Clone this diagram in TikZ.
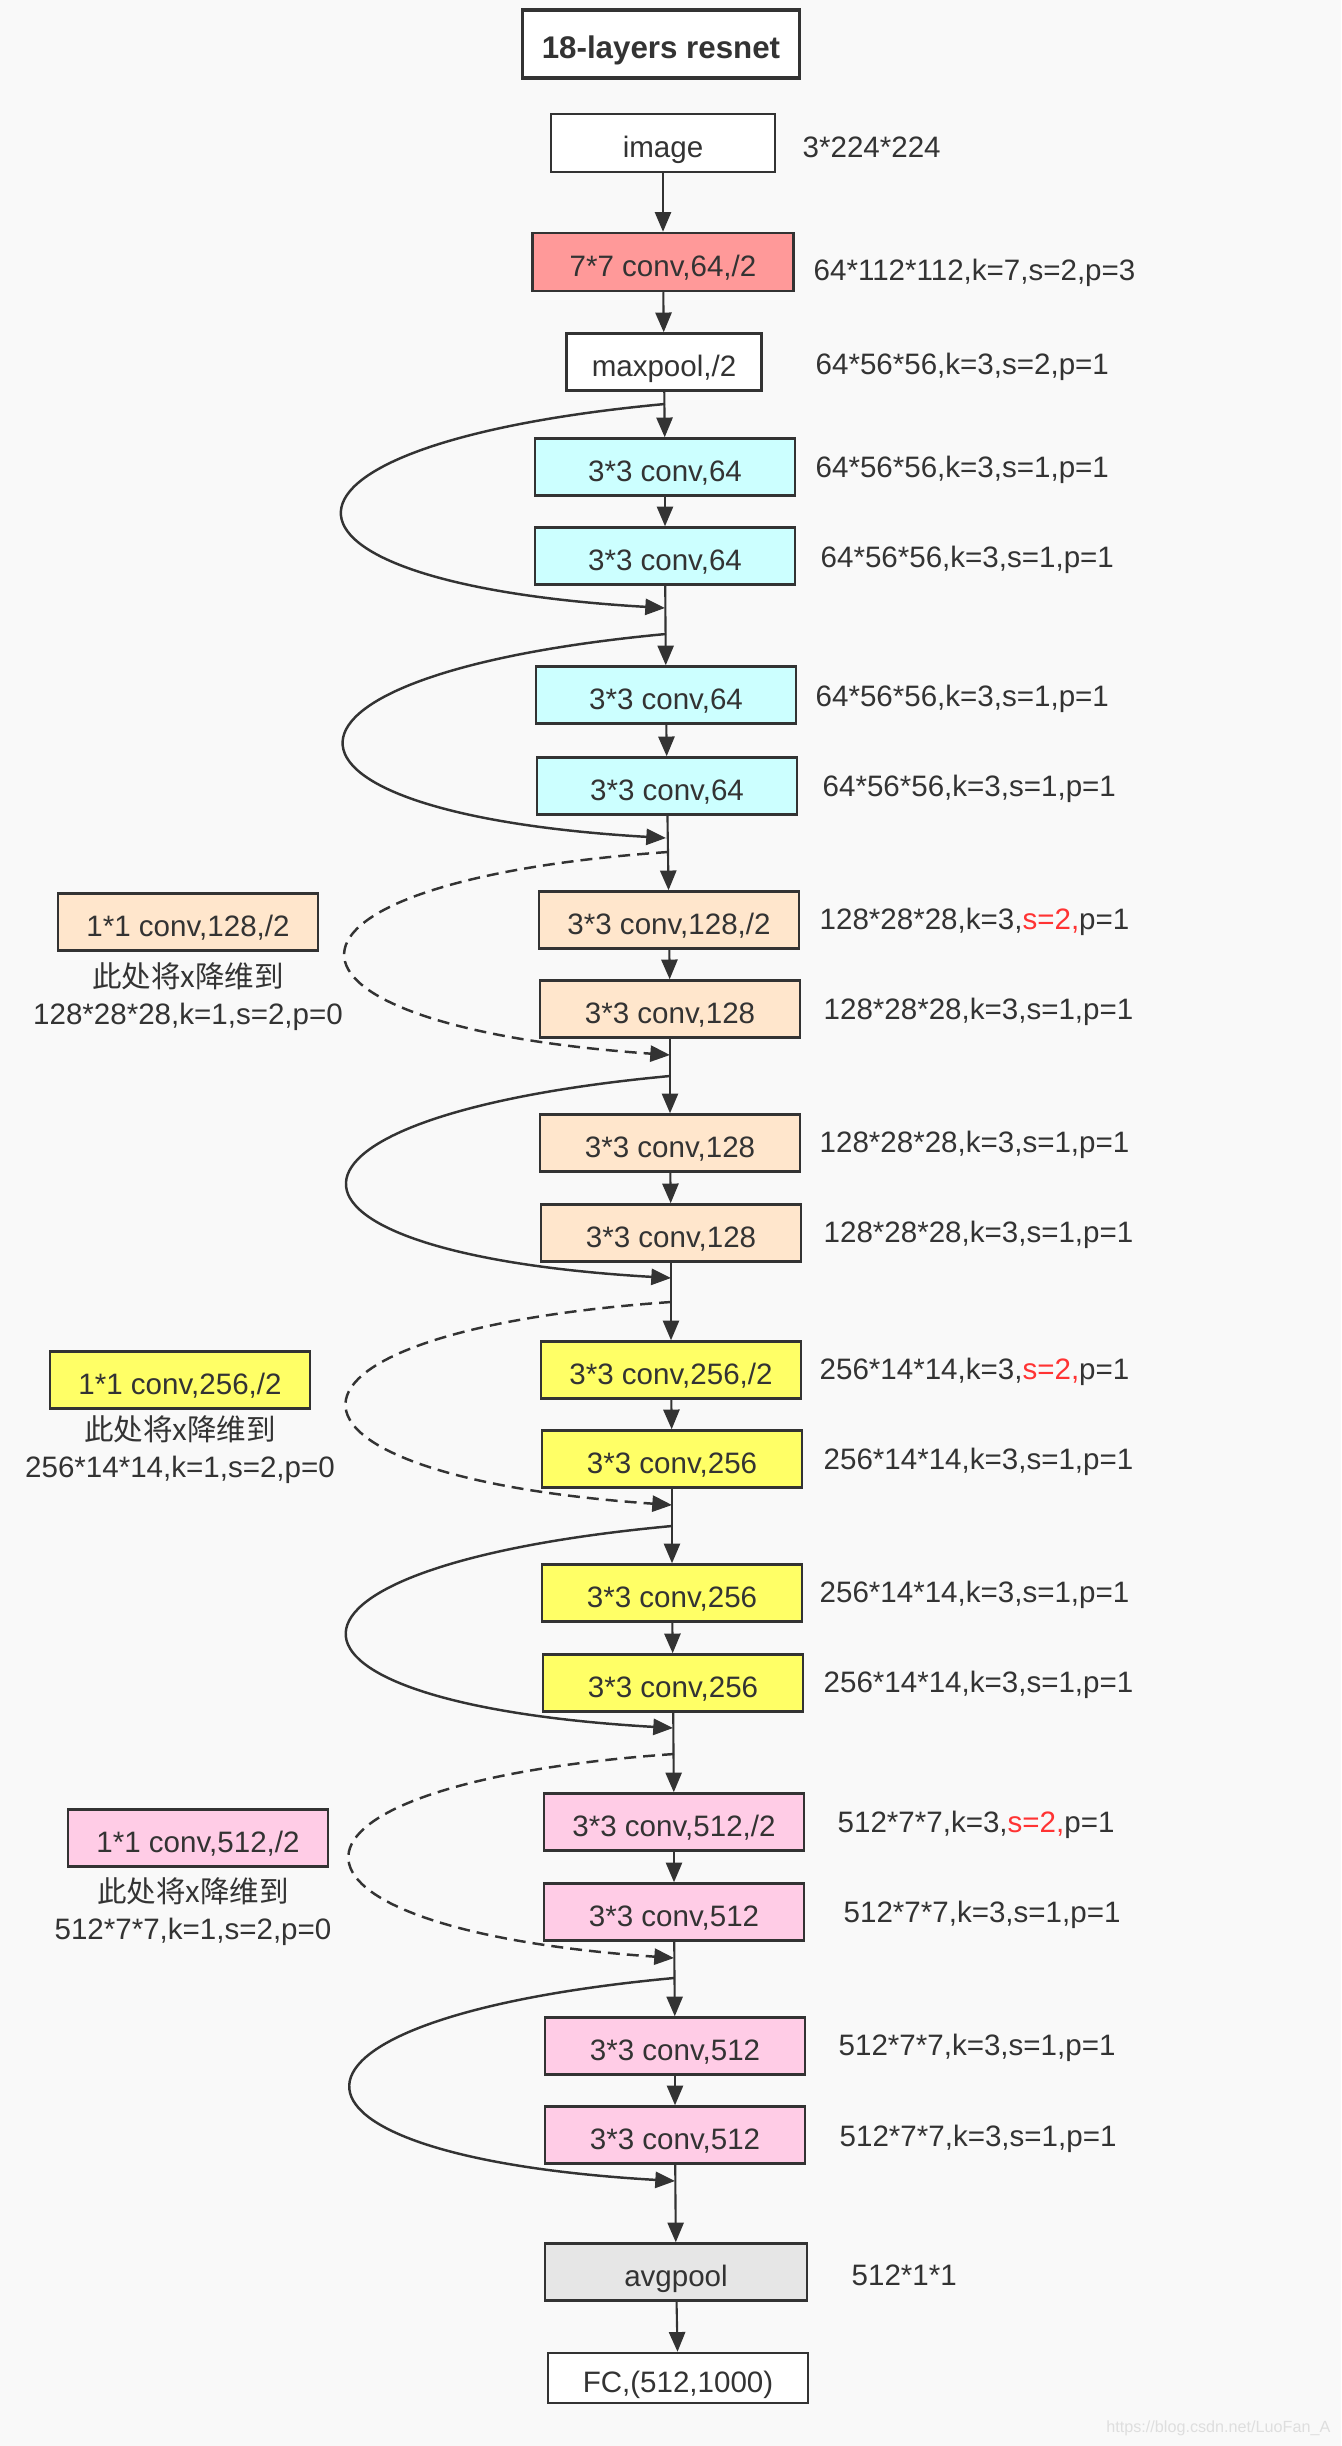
\documentclass[tikz,border=0pt]{standalone}
\usepackage{fontspec}
\setmainfont{Liberation Sans}
\newfontfamily\cjk{Noto Sans CJK SC}
\usetikzlibrary{arrows.meta,positioning}
\definecolor{txt}{HTML}{333333}
\definecolor{bg}{HTML}{F9F9F9}
\definecolor{cred}{HTML}{FF9999}
\definecolor{ccyan}{HTML}{CCFFFF}
\definecolor{cpeach}{HTML}{FFE6CC}
\definecolor{cyel}{HTML}{FFFF66}
\definecolor{cpink}{HTML}{FFCCE6}
\definecolor{cgray}{HTML}{E6E6E6}
\definecolor{sred}{HTML}{FF3333}
\begin{document}
\begin{tikzpicture}[x=0.01cm, y=-0.01cm,
    box/.style={rectangle, draw=txt, line width=0.7pt, fill=white, minimum width=2.6cm, minimum height=0.57cm, inner sep=0pt, text height=8.5pt, text depth=0pt, text=txt, font=\fontsize{8.4}{10}\selectfont},
    c64/.style={box, fill=ccyan},
    c128/.style={box, fill=cpeach},
    c256/.style={box, fill=cyel},
    c512/.style={box, fill=cpink},
    lab/.style={anchor=west, inner sep=0pt, text=txt, font=\fontsize{8.4}{10}\selectfont},
    note/.style={align=center, inner sep=0pt, text=txt, font=\fontsize{8.4}{10.5}\selectfont},
    arr/.style={-{Triangle[length=5.6pt,width=4.6pt]}, line width=0.6pt, draw=txt},
    skip/.style={arr, line width=0.7pt},
    proj/.style={arr, line width=0.7pt, dash pattern=on 3.4pt off 2pt}
]
\fill[bg] (0,0) rectangle (1341,2446);
\useasboundingbox (0,0) rectangle (1341,2446);

\node[box, line width=0.9pt, minimum width=2.77cm, minimum height=0.68cm, font=\bfseries\fontsize{8.9}{10}\selectfont] (title) at (661,44) {18-layers resnet};
\node[box, minimum width=2.24cm, minimum height=0.58cm] (img) at (663,143) {image};
\node[box, fill=cred, minimum width=2.61cm, minimum height=0.58cm] (c7) at (663,262) {7*7 conv,64,/2};
\node[box, minimum width=1.95cm] (mp) at (664,362) {maxpool,/2};

\node[c64] (b1a) at (665,467) {3*3 conv,64};
\node[c64] (b1b) at (665,556) {3*3 conv,64};
\node[c64] (b2a) at (666,695) {3*3 conv,64};
\node[c64] (b2b) at (667,786) {3*3 conv,64};

\node[c128] (b3a) at (669,920) {3*3 conv,128,/2};
\node[c128] (b3b) at (670,1009) {3*3 conv,128};
\node[c128] (b3c) at (670,1143) {3*3 conv,128};
\node[c128] (b3d) at (671,1233) {3*3 conv,128};

\node[c256] (b4a) at (671,1370) {3*3 conv,256,/2};
\node[c256] (b4b) at (672,1459) {3*3 conv,256};
\node[c256] (b4c) at (672,1593) {3*3 conv,256};
\node[c256] (b4d) at (673,1683) {3*3 conv,256};

\node[c512] (b5a) at (674,1822) {3*3 conv,512,/2};
\node[c512] (b5b) at (674,1912) {3*3 conv,512};
\node[c512] (b5c) at (675,2046) {3*3 conv,512};
\node[c512] (b5d) at (675,2135) {3*3 conv,512};

\node[box, fill=cgray, minimum width=2.62cm] (avg) at (676,2272) {avgpool};
\node[box, minimum height=0.5cm] (fc) at (678,2378) {FC,(512,1000)};

\node[c128] (p128) at (188,922) {1*1 conv,128,/2};
\node[note] (n128) at (188,997) {{\cjk 此处将x降维到}\\128*28*28,k=1,s=2,p=0};
\node[c256] (p256) at (180,1380) {1*1 conv,256,/2};
\node[note] (n256) at (180,1450) {{\cjk 此处将x降维到}\\256*14*14,k=1,s=2,p=0};
\node[c512] (p512) at (198,1838) {1*1 conv,512,/2};
\node[note] (n512) at (193,1912) {{\cjk 此处将x降维到}\\512*7*7,k=1,s=2,p=0};

\node[lab] (limg) at (802,147) {3*224*224};
\node[lab] (lc7) at (813,273) {64*112*112,k=7,s=2,p=3};
\node[lab] (lmp) at (815,367) {64*56*56,k=3,s=2,p=1};
\node[lab] (lb1a) at (815,470) {64*56*56,k=3,s=1,p=1};
\node[lab] (lb1b) at (820,560) {64*56*56,k=3,s=1,p=1};
\node[lab] (lb2a) at (815,699) {64*56*56,k=3,s=1,p=1};
\node[lab] (lb2b) at (822,789) {64*56*56,k=3,s=1,p=1};
\node[lab] (lb3a) at (819,922) {128*28*28,k=3,\textcolor{sred}{s=2,}p=1};
\node[lab] (lb3b) at (823,1012) {128*28*28,k=3,s=1,p=1};
\node[lab] (lb3c) at (819,1145) {128*28*28,k=3,s=1,p=1};
\node[lab] (lb3d) at (823,1235) {128*28*28,k=3,s=1,p=1};
\node[lab] (lb4a) at (819,1372) {256*14*14,k=3,\textcolor{sred}{s=2,}p=1};
\node[lab] (lb4b) at (823,1462) {256*14*14,k=3,s=1,p=1};
\node[lab] (lb4c) at (819,1595) {256*14*14,k=3,s=1,p=1};
\node[lab] (lb4d) at (823,1685) {256*14*14,k=3,s=1,p=1};
\node[lab] (lb5a) at (837,1825) {512*7*7,k=3,\textcolor{sred}{s=2,}p=1};
\node[lab] (lb5b) at (843,1915) {512*7*7,k=3,s=1,p=1};
\node[lab] (lb5c) at (838,2048) {512*7*7,k=3,s=1,p=1};
\node[lab] (lb5d) at (839,2139) {512*7*7,k=3,s=1,p=1};
\node[lab] (lavg) at (851,2275) {512*1*1};

\node[anchor=east, inner sep=0pt, text=black!13, font=\fontsize{4.6}{5}\selectfont] (wm) at (1331,2428) {https://blog.csdn.net/LuoFan\_A};

\coordinate (s1) at (665,404); \coordinate (m1) at (665,608);
\coordinate (s2) at (666,634); \coordinate (m2) at (666,838);
\coordinate (d1) at (668,852); \coordinate (e1) at (670,1055);
\coordinate (s3) at (670,1076); \coordinate (m3) at (671,1278);
\coordinate (d2) at (671,1302); \coordinate (e2) at (672,1505);
\coordinate (s4) at (672,1526); \coordinate (m4) at (673,1728);
\coordinate (d3) at (674,1754); \coordinate (e3) at (674,1958);
\coordinate (s5) at (674,1978); \coordinate (m5) at (675,2181);

\draw[arr] (img) -- (c7);
\draw[arr] (c7) -- (mp);
\draw[arr] (mp) -- (b1a);
\draw[arr] (b1a) -- (b1b);
\draw[arr] (b1b) -- (b2a);
\draw[arr] (b2a) -- (b2b);
\draw[arr] (b2b) -- (b3a);
\draw[arr] (b3a) -- (b3b);
\draw[arr] (b3b) -- (b3c);
\draw[arr] (b3c) -- (b3d);
\draw[arr] (b3d) -- (b4a);
\draw[arr] (b4a) -- (b4b);
\draw[arr] (b4b) -- (b4c);
\draw[arr] (b4c) -- (b4d);
\draw[arr] (b4d) -- (b5a);
\draw[arr] (b5a) -- (b5b);
\draw[arr] (b5b) -- (b5c);
\draw[arr] (b5c) -- (b5d);
\draw[arr] (b5d) -- (avg);
\draw[arr] (avg) -- (fc);

\draw[skip] (s1) .. controls (236,444) and (236,583) .. (m1);
\draw[skip] (s2) .. controls (238,674) and (238,813) .. (m2);
\draw[skip] (s3) .. controls (241,1116) and (241,1253) .. (m3);
\draw[skip] (s4) .. controls (240,1566) and (240,1703) .. (m4);
\draw[skip] (s5) .. controls (244,2018) and (244,2156) .. (m5);

\draw[proj] (d1) .. controls (239,882) and (239,1025) .. (e1);
\draw[proj] (d2) .. controls (240,1332) and (240,1475) .. (e2);
\draw[proj] (d3) .. controls (243,1784) and (243,1928) .. (e3);
\end{tikzpicture}
\end{document}
